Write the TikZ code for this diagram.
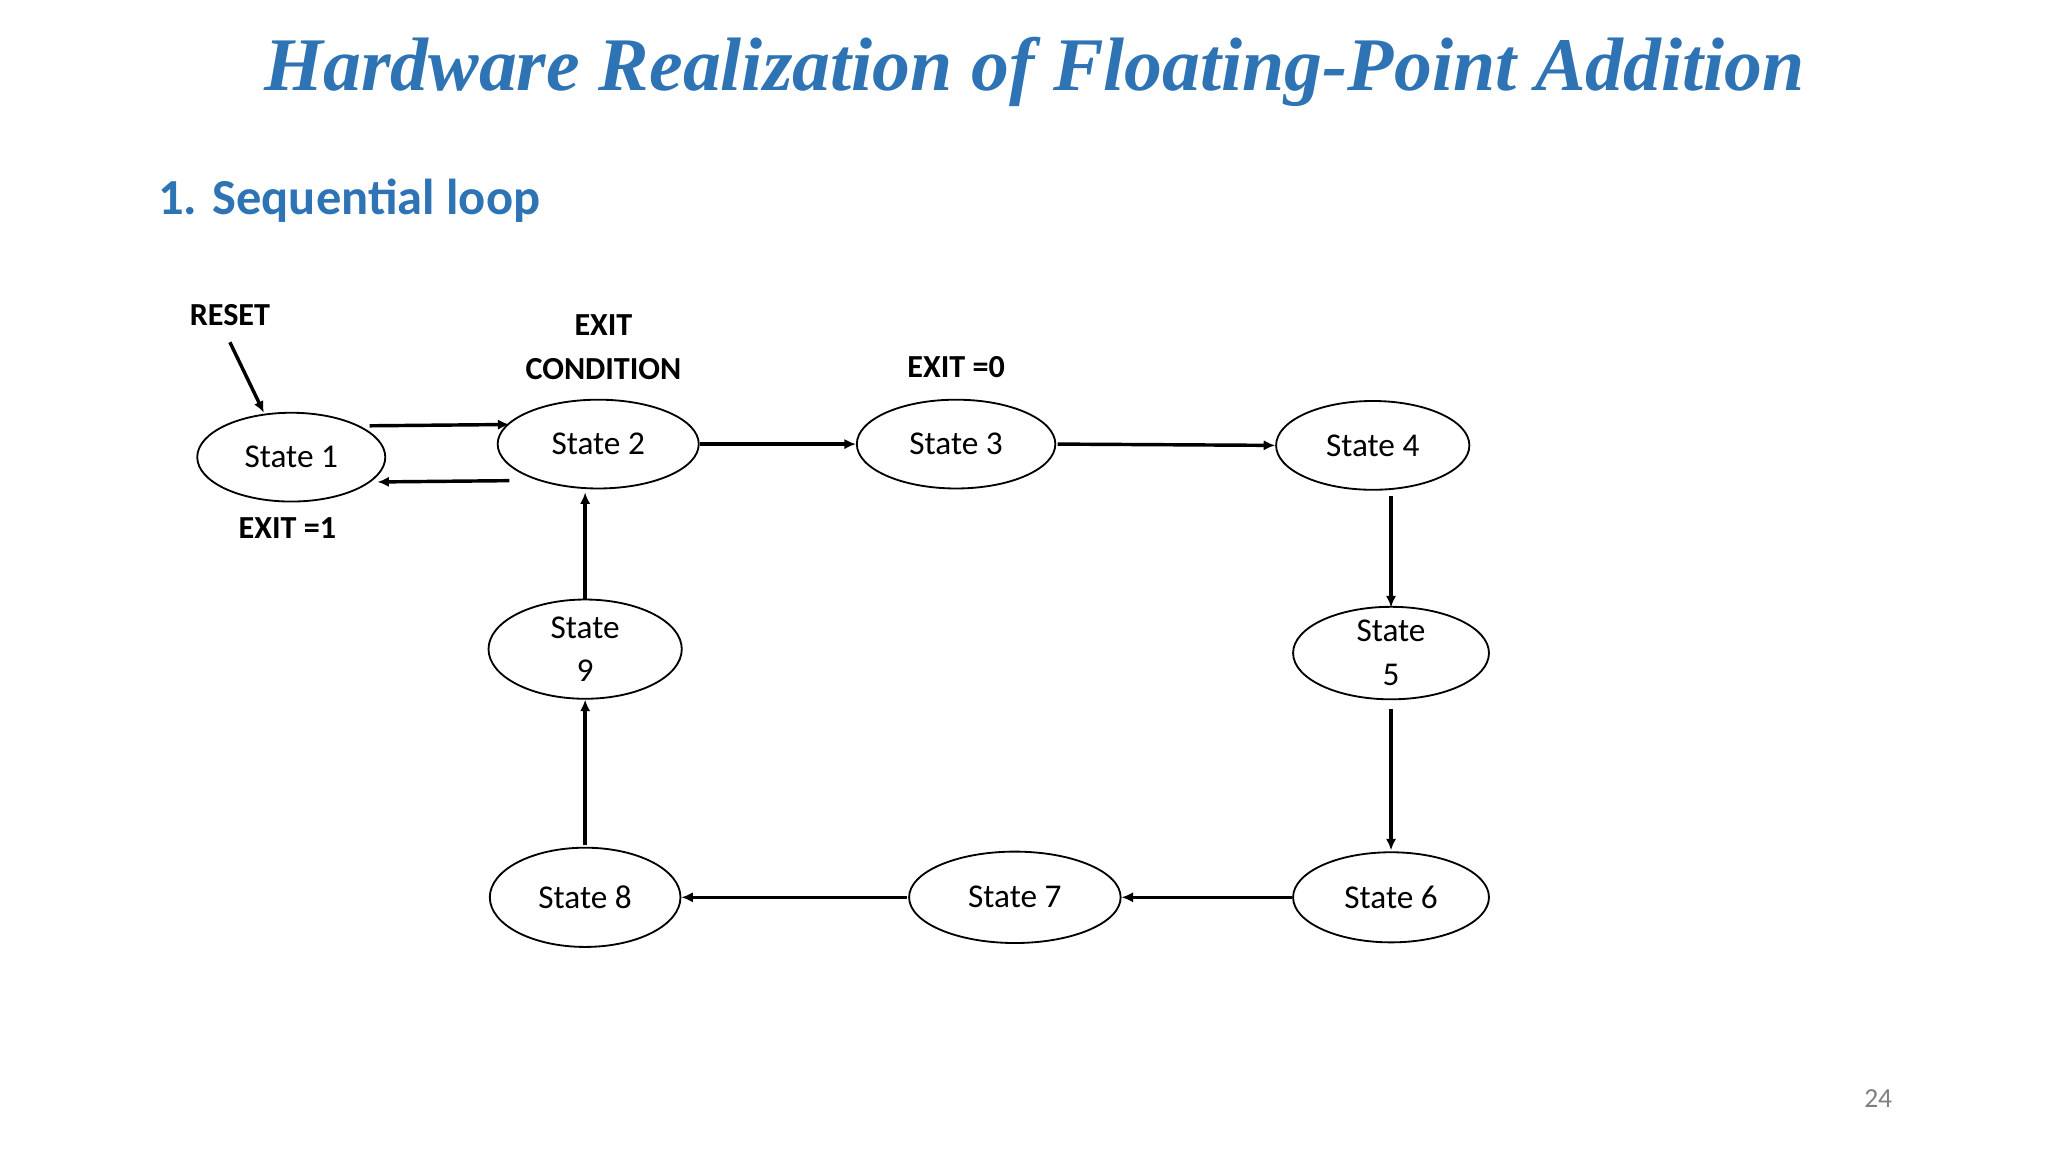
\documentclass[tikz,border=0pt]{standalone}
\usepackage{fontspec}
\setmainfont{Carlito}
\newfontfamily\titlefont{Liberation Serif}
\usetikzlibrary{shapes.geometric,arrows.meta,calc}
\definecolor{tblue}{RGB}{46,116,181}
\begin{document}
\begin{tikzpicture}[x=0.02cm,y=-0.02cm,
  st/.style={draw,ellipse,line width=0.8pt,minimum width=#1,inner sep=0pt,font=\fontsize{14.5}{15}\selectfont,align=center},
  st/.default={2.9cm},
  ar/.style={-{Latex[length=5pt,width=4.5pt]},line width=1.5pt},
  lb/.style={font=\bfseries\fontsize{14}{17}\selectfont,align=center}]
\useasboundingbox (0,0) rectangle (1568,882);
\fill[white] (0,0) rectangle (1568,882);
\node[text=tblue,font=\titlefont\bfseries\itshape\fontsize{33}{40}\selectfont] (title) at (792,55) {Hardware Realization of Floating-Point Addition};
\node[text=tblue,font=\bfseries\fontsize{22}{26}\selectfont,anchor=west] (head) at (115,154) {1. Sequential loop};
\node[st=2.88cm,minimum height=1.36cm] (s1) at (223,350) {State 1};
\node[st=3.08cm,minimum height=1.36cm] (s2) at (458,340) {State 2};
\node[st=3.04cm,minimum height=1.36cm] (s3) at (732,340) {State 3};
\node[st=2.96cm,minimum height=1.36cm] (s4) at (1051,341) {State 4};
\node[st=3.0cm,minimum height=1.38cm] (s5) at (1065,500) {State\\[4pt]5};
\node[st=3.0cm,minimum height=1.38cm] (s6) at (1065,687) {State 6};
\node[st=3.24cm,minimum height=1.4cm] (s7) at (777,687) {State 7};
\node[st=2.92cm,minimum height=1.52cm] (s8) at (448,687) {State 8};
\node[st=2.96cm,minimum height=1.52cm] (s9) at (448,497) {State\\[4pt]9};
\node[lb] (reset) at (176,241) {RESET};
\node[lb] (exitc) at (462,266) {EXIT\\[2pt]CONDITION};
\node[lb] (exit0) at (732,281) {EXIT =0};
\node[lb] (exit1) at (220,404) {EXIT =1};
\node[text=gray,font=\fontsize{12}{14}\selectfont] (pg) at (1438,841) {24};
\coordinate (rs) at (176,262);
\draw[ar] (rs) -- ($(s1)+(-21,-34)$);
\draw[ar] ($(s1)+(60,-24)$) -- ($(s2)+(-68,-15)$);
\draw[ar] ($(s2)+(-68,28)$) -- ($(s1)+(66,19)$);
\draw[ar] (s2.east) -- (s3.west);
\draw[ar] ($(s3.east)+(1,0)$) -- (s4.west);
\draw[ar] ($(s4)+(14,39)$) -- ($(s5)+(0,-35)$);
\draw[ar] ($(s5)+(0,43)$) -- ($(s6)+(0,-36)$);
\draw[ar] (s6.west) -- (s7.east);
\draw[ar] ($(s7.west)+(-1,0)$) -- (s8.east);
\draw[ar] ($(s8)+(0,-40)$) -- (s9.south);
\draw[ar] (s9.north) -- ($(s2)+(-10,37)$);
\end{tikzpicture}
\end{document}
